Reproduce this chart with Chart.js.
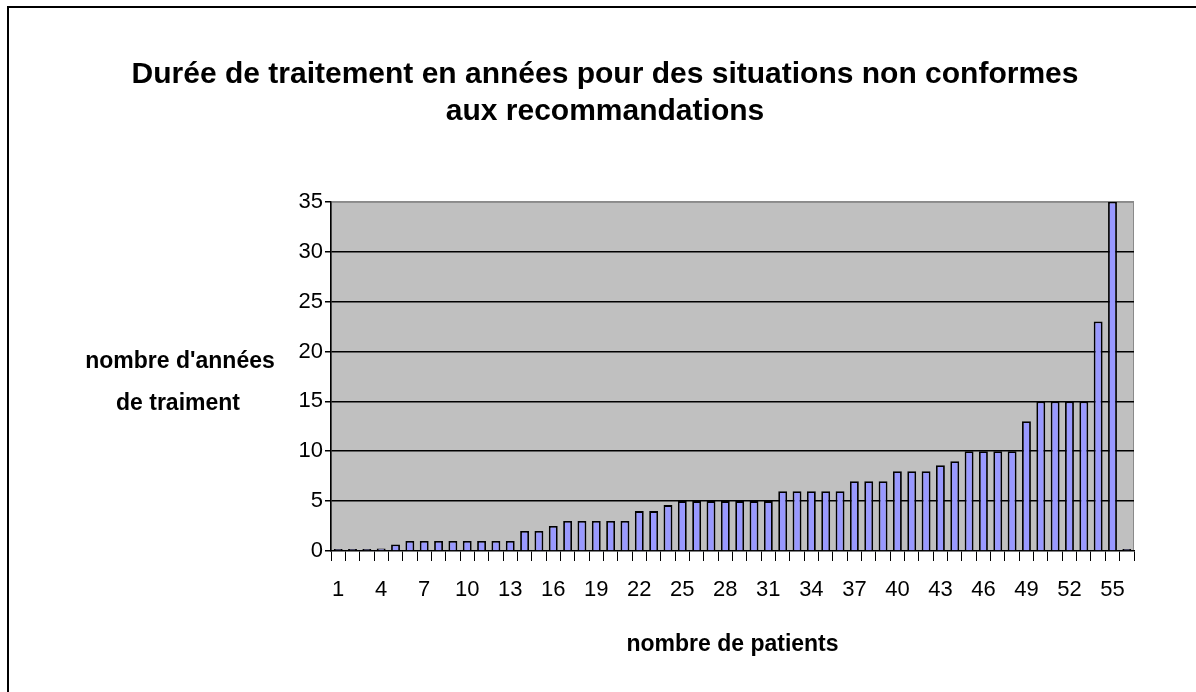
<!DOCTYPE html>
<html>
<head>
<meta charset="utf-8">
<script src="https://cdn.jsdelivr.net/npm/chart.js@4.4.1/dist/chart.umd.min.js"></script>
<style>
  html, body { margin: 0; padding: 0; background: #fff; }
  #wrap { width: 1196px; height: 692px; }
</style>
</head>
<body>
<div id="wrap"><canvas id="grafico"></canvas></div>
<script>
const patients = [1, 2, 3, 4, 5, 6, 7, 8, 9, 10, 11, 12, 13, 14, 15, 16, 17, 18, 19, 20,
   21, 22, 23, 24, 25, 26, 27, 28, 29, 30, 31, 32, 33, 34, 35, 36, 37, 38, 39, 40,
   41, 42, 43, 44, 45, 46, 47, 48, 49, 50, 51, 52, 53, 54, 55, 56]
const annees = [0, 0, 0, 0.25, 0.65, 1, 1, 1, 1, 1, 1, 1, 1, 2, 2, 2.5, 3, 3, 3, 3,
   3, 4, 4, 4.6, 5, 5, 5, 5, 5, 5, 5, 6, 6, 6, 6, 6, 7, 7, 7, 8,
   8, 8, 8.6, 9, 10, 10, 10, 10, 13, 15, 15, 15, 15, 23, 35, 0]
const yTicks = [0, 5, 10, 15, 20, 25, 30, 35]

const titre = ['Durée de traitement en années pour des situations non conformes', 'aux recommandations']
const titreY = ["nombre d'années", 'de traiment']
const titreX = 'nombre de patients'

const police = "'Liberation Sans Narrow', 'Arial Narrow', 'Liberation Sans', Arial, sans-serif"

// fond gris de la zone de tracé + cadre extérieur + titre de l'axe Y (horizontal)
const fond = {
   id: 'fond',
   beforeDraw(chart) {
      const { ctx, chartArea: a } = chart
      ctx.save()
      ctx.fillStyle = '#ffffff'
      ctx.fillRect(0, 0, chart.width, chart.height)
      ctx.strokeStyle = '#000000'
      ctx.lineWidth = 2
      ctx.strokeRect(8, 7, chart.width + 20, chart.height + 20)
      ctx.fillStyle = '#c0c0c0'
      ctx.fillRect(a.left, a.top, a.right - a.left, a.bottom - a.top)
      ctx.strokeStyle = '#8a8a8a'
      ctx.lineWidth = 1
      ctx.strokeRect(a.left + 0.5, a.top + 0.5, a.right - a.left - 1, a.bottom - a.top - 1)
      ctx.restore()
   },
   afterDraw(chart) {
      const { ctx } = chart
      ctx.save()
      ctx.fillStyle = '#000'
      ctx.font = 'bold 23px ' + police
      ctx.textAlign = 'center'
      ctx.textBaseline = 'middle'
      ctx.fillText(titreY[0], 180, 362)
      ctx.fillText(titreY[1], 178, 404)
      ctx.restore()
   }
}

const ctx = document.getElementById('grafico').getContext('2d')
const myChart = new Chart(ctx, {
   type: 'bar',
   plugins: [fond],
   data: {
      labels: patients,
      datasets: [{
         label: 'années',
         data: annees,
         backgroundColor: '#9999ff',
         borderColor: '#000000',
         borderWidth: 1.8,
         minBarLength: 2,
         categoryPercentage: 1,
         barPercentage: 0.62
      }]
   },
   options: {
      responsive: true,
      maintainAspectRatio: false,
      animation: false,
      layout: { padding: { left: 76, right: 62, top: 20, bottom: 0 } },
      plugins: {
         legend: { display: false },
         tooltip: { enabled: false },
         title: {
            display: true,
            text: titre,
            color: '#000',
            font: { family: police, size: 30, weight: 'bold', lineHeight: 1.23 },
            padding: { top: 36, bottom: 72 }
         }
      },
      scales: {
         x: {
            grid: { drawOnChartArea: false, drawTicks: true, tickLength: 10, tickColor: '#000', offset: true },
            border: { color: '#000', width: 1.5 },
            ticks: {
               autoSkip: false,
               maxRotation: 0,
               padding: 16,
               color: '#000',
               font: { family: police, size: 22 },
               callback: function (val, i) { return i % 3 === 0 ? patients[i] : '' }
            },
            title: {
               display: true,
               text: titreX,
               color: '#000',
               font: { family: police, size: 23, weight: 'bold' },
               padding: { top: 0, bottom: 34 }
            },
            afterFit: function (scale) { scale.height = 141 }
         },
         y: {
            min: 0,
            max: 35,
            afterBuildTicks: function (scale) { scale.ticks = yTicks.map(v => ({ value: v })) },
            grid: {
               color: function (c) { return c.tick.value === 35 ? '#8a8a8a' : (c.tick.value === 0 ? 'rgba(0,0,0,0)' : '#000') },
               lineWidth: 1.5,
               tickColor: '#000',
               tickLength: 6
            },
            border: { color: '#000', width: 1.5 },
            ticks: {
               padding: 2,
               color: '#000',
               font: { family: police, size: 22 }
            },
            afterFit: function (scale) { scale.width = 255 }
         }
      }
   }
})
</script>
</body>
</html>
